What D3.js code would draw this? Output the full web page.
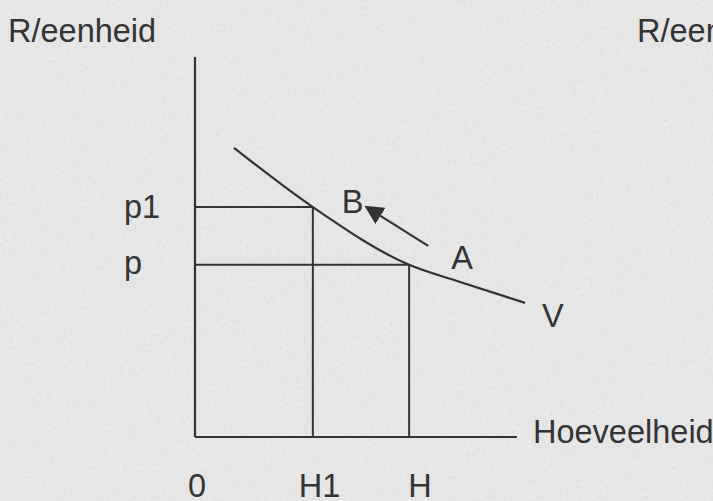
<!DOCTYPE html>
<html>
<head>
<meta charset="utf-8">
<script src="https://cdn.jsdelivr.net/npm/d3@7"></script>
<style>
  html, body { margin: 0; padding: 0; background: #e9e9e9; overflow: hidden; }
  svg { display: block; }
  text { font-family: "Liberation Sans", Arial, sans-serif; fill: #343434; }
</style>
</head>
<body>
<svg id="chart" width="713" height="501"></svg>
<script>
// ---- data (abstract units) ----
const axisLabels = { y: "R/eenheid", x: "Hoeveelheid" };
const quantityTicks = ["0", "H1", "H"];
const quantityValues = [0, 3.66, 6.65];
const priceTicks = ["p1", "p"];
const priceValues = [6.05, 4.53];
const demandQ = [1.21, 3.66, 6.65, 8.23, 10.25];
const demandP = [7.61, 6.05, 4.53, 4.08, 3.53];
const pointNames = ["B", "A"];
const curveName = "V";
const arrowFrom = [7.24, 5.03];
const arrowTo = [5.76, 5.82];

const svg = d3.select("#chart");
const W = 713, H = 501;

// background with subtle paper noise
const defs = svg.append("defs");
const f = defs.append("filter").attr("id", "noise").attr("x", 0).attr("y", 0).attr("width", "100%").attr("height", "100%");
f.append("feTurbulence").attr("type", "fractalNoise").attr("baseFrequency", 0.3).attr("numOctaves", 2).attr("seed", 7).attr("result", "t");
f.append("feColorMatrix").attr("type", "saturate").attr("values", 0);
svg.append("rect").attr("width", W).attr("height", H).attr("fill", "#e9e9e9");
svg.append("rect").attr("width", W).attr("height", H).attr("filter", "url(#noise)").attr("opacity", 0.14);

const x = d3.scaleLinear().domain([0, 10]).range([195, 517]);
const y = d3.scaleLinear().domain([0, 10]).range([437, 57]);

const ink = "#333";
const g = svg.append("g");

// axes
g.append("line").attr("x1", x(0)).attr("x2", x(0)).attr("y1", y(10)).attr("y2", y(0))
  .attr("stroke", ink).attr("stroke-width", 2.2);
g.append("line").attr("x1", x(0)).attr("x2", x(10)).attr("y1", y(0)).attr("y2", y(0))
  .attr("stroke", ink).attr("stroke-width", 2.2);

// guide lines: B (H1,p1), A (H,p)
const pts = [ [quantityValues[1], priceValues[0]], [quantityValues[2], priceValues[1]] ];
pts.forEach(([q, p]) => {
  g.append("line").attr("x1", x(0)).attr("x2", x(q)).attr("y1", y(p)).attr("y2", y(p))
    .attr("stroke", ink).attr("stroke-width", 2);
  g.append("line").attr("x1", x(q)).attr("x2", x(q)).attr("y1", y(p)).attr("y2", y(0))
    .attr("stroke", ink).attr("stroke-width", 2);
});

// demand curve
const curveData = demandQ.map((q, i) => [q, demandP[i]]);
g.append("path").datum(curveData)
  .attr("d", d3.line().x(d => x(d[0])).y(d => y(d[1])).curve(d3.curveMonotoneX))
  .attr("fill", "none").attr("stroke", ink).attr("stroke-width", 2.2);

// arrow
defs.append("marker").attr("id", "ah").attr("viewBox", "0 0 10 10")
  .attr("refX", 0).attr("refY", 5).attr("markerWidth", 19).attr("markerHeight", 19)
  .attr("markerUnits", "userSpaceOnUse").attr("orient", "auto")
  .append("path").attr("d", "M0,0 L10,5 L0,10 z").attr("fill", ink);
g.append("line").attr("x1", x(arrowFrom[0])).attr("y1", y(arrowFrom[1]))
  .attr("x2", x(arrowTo[0])).attr("y2", y(arrowTo[1]))
  .attr("stroke", ink).attr("stroke-width", 2.2).attr("marker-end", "url(#ah)");

// text
const fs = 32.5;
svg.append("text").attr("x", 8).attr("y", 42).attr("font-size", fs).text(axisLabels.y);
svg.append("text").attr("x", 637).attr("y", 42).attr("font-size", fs).text(axisLabels.y);
svg.append("text").attr("x", x(10) + 16).attr("y", y(0) + 6).attr("font-size", fs).text(axisLabels.x);

const qdx = [-7, -14, -1];
quantityTicks.forEach((t, i) => {
  svg.append("text").attr("x", x(quantityValues[i]) + qdx[i]).attr("y", 497)
    .attr("font-size", fs).text(t);
});
const pdy = [11, 9];
priceTicks.forEach((t, i) => {
  svg.append("text").attr("x", 124).attr("y", y(priceValues[i]) + pdy[i])
    .attr("font-size", fs).text(t);
});

svg.append("text").attr("x", x(quantityValues[1]) + 29).attr("y", y(priceValues[0]) + 6)
  .attr("font-size", fs).text(pointNames[0]);
svg.append("text").attr("x", x(quantityValues[2]) + 42).attr("y", y(priceValues[1]) + 4)
  .attr("font-size", fs).text(pointNames[1]);
svg.append("text").attr("x", x(10.25) + 17).attr("y", y(demandP[4]) + 24)
  .attr("font-size", fs).text(curveName);
</script>
</body>
</html>
